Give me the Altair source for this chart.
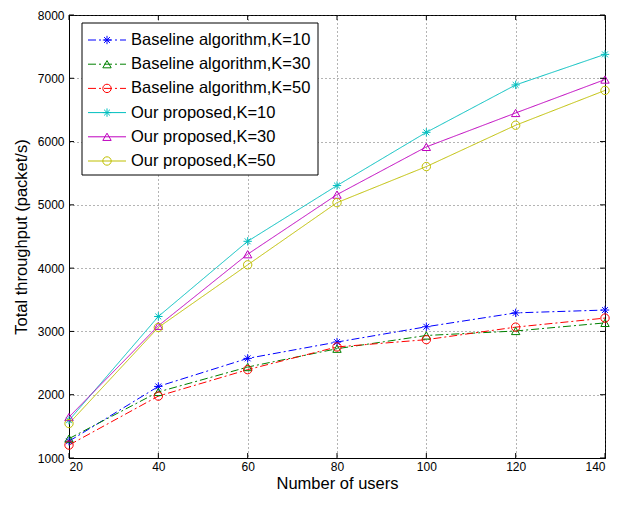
import altair as alt
import pandas as pd

users = [20, 40, 60, 80, 100, 120, 140]
series_names = [
    "Baseline algorithm,K=10",
    "Baseline algorithm,K=30",
    "Baseline algorithm,K=50",
    "Our proposed,K=10",
    "Our proposed,K=30",
    "Our proposed,K=50",
]
base_k10 = [1265, 2131, 2574, 2832, 3074, 3293, 3338]
base_k30 = [1306, 2044, 2437, 2727, 2936, 3007, 3135]
base_k50 = [1204, 1978, 2396, 2755, 2870, 3068, 3211]
ours_k10 = [1596, 3236, 4424, 5305, 6146, 6895, 7378]
ours_k30 = [1647, 3089, 4220, 5162, 5916, 6452, 6980]
ours_k50 = [1545, 3063, 4052, 5035, 5605, 6258, 6808]
x_ticks = [20, 40, 60, 80, 100, 120, 140]
y_ticks = [1000, 2000, 3000, 4000, 5000, 6000, 7000, 8000]

all_vals = [base_k10, base_k30, base_k50, ours_k10, ours_k30, ours_k50]
rows = []
for name, vals in zip(series_names, all_vals):
    for u, v in zip(users, vals):
        rows.append({"users": u, "value": v, "series": name})
df = pd.DataFrame(rows)
leg_df = pd.DataFrame({"series": series_names})

W, H = 536, 443
FONT = "Liberation Sans"
ASTER = "M-1,0L1,0M0,-1L0,1M-0.7,-0.7L0.7,0.7M-0.7,0.7L0.7,-0.7"
colors = ["#0000FF", "#008000", "#FF0000", "#00BFBF", "#BF00BF", "#BFBF00"]
shapes = [ASTER, "triangle-up", "circle", ASTER, "triangle-up", "circle"]
dashes = [[8, 3, 2, 3], [8, 3, 2, 3], [8, 3, 2, 3], [1, 0], [1, 0], [1, 0]]

color_enc = alt.Color("series:N", scale=alt.Scale(domain=series_names, range=colors), legend=None)
shape_enc = alt.Shape("series:N", scale=alt.Scale(domain=series_names, range=shapes), legend=None)
dash_enc = alt.StrokeDash("series:N", scale=alt.Scale(domain=series_names, range=dashes), legend=None)

xs = alt.Scale(domain=[20, 140], nice=False, zero=False)
ys = alt.Scale(domain=[1000, 8000], nice=False, zero=False)

base = alt.Chart(df)
lines = base.mark_line(strokeWidth=1).encode(
    x=alt.X("users:Q", scale=xs, title="Number of users",
            axis=alt.Axis(values=x_ticks, format="d")),
    y=alt.Y("value:Q", scale=ys, title="Total throughput (packet/s)",
            axis=alt.Axis(values=y_ticks, format="d")),
    color=color_enc,
    strokeDash=dash_enc,
    detail="series:N",
)
points = base.mark_point(filled=False, strokeWidth=1, size=70, opacity=1).encode(
    x=alt.X("users:Q", scale=xs),
    y=alt.Y("value:Q", scale=ys),
    color=color_enc,
    shape=shape_enc,
)

xt = alt.Chart(pd.DataFrame({"t": x_ticks}))
yt = alt.Chart(pd.DataFrame({"t": y_ticks}))
tick_style = dict(color="black", strokeWidth=1)
xb = xt.mark_rule(**tick_style).encode(x=alt.X("t:Q", scale=xs), y=alt.value(H), y2=alt.value(H - 5))
xtop = xt.mark_rule(**tick_style).encode(x=alt.X("t:Q", scale=xs), y=alt.value(0), y2=alt.value(5))
yl = yt.mark_rule(**tick_style).encode(y=alt.Y("t:Q", scale=ys), x=alt.value(0), x2=alt.value(5))
yr = yt.mark_rule(**tick_style).encode(y=alt.Y("t:Q", scale=ys), x=alt.value(W), x2=alt.value(W - 5))

main = alt.layer(lines, points, xb, xtop, yl, yr)

box = alt.Chart(pd.DataFrame({"a": [0]})).mark_rect(
    fill="white", stroke="black", strokeWidth=1
).encode(x=alt.value(13), x2=alt.value(249), y=alt.value(8), y2=alt.value(160))

ly = alt.Y("series:N", sort=series_names,
           scale=alt.Scale(type="point", domain=series_names, range=[25, 146], padding=0),
           axis=None)
lg = alt.Chart(leg_df)
leg_line = lg.mark_rule(strokeWidth=1).encode(
    x=alt.value(19), x2=alt.value(57), y=ly, color=color_enc, strokeDash=dash_enc)
leg_pt = lg.mark_point(filled=False, strokeWidth=1, size=70, opacity=1).encode(
    x=alt.value(38), y=ly, color=color_enc, shape=shape_enc)
leg_txt = lg.mark_text(align="left", baseline="middle", font=FONT, fontSize=16.5, color="black").encode(
    x=alt.value(62), y=ly, text="series:N")

legend = alt.layer(box, leg_line, leg_pt, leg_txt)

chart = alt.layer(main, legend).resolve_scale(y="independent").properties(
    width=W, height=H,
    autosize=alt.AutoSizeParams(type="none"),
    padding={"left": 61, "top": 7, "right": 14, "bottom": 39},
    background="white",
).configure_view(stroke="black", strokeWidth=1).configure_axis(
    labelFont=FONT, labelFontSize=12, labelColor="black",
    titleFont=FONT, titleFontSize=16.5, titleFontWeight="normal", titleColor="black",
    grid=True, gridColor="#444", gridDash=[1, 3], gridWidth=1, gridOpacity=0.8,
    domainColor="black", domainWidth=1, ticks=False,
).configure_axisX(labelPadding=3, titlePadding=3).configure_axisY(labelPadding=5, titlePadding=8)

chart.save("out.html", embed_options={"renderer": "svg", "actions": False})
